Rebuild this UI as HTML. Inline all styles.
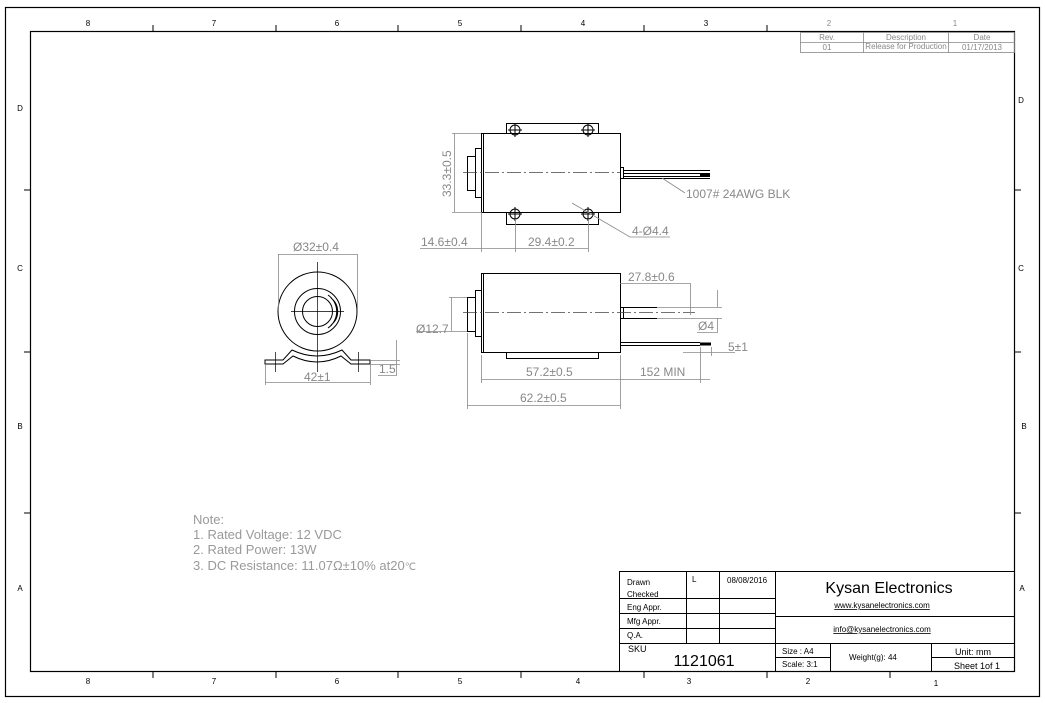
<!DOCTYPE html>
<html><head><meta charset="utf-8"><style>
html,body{margin:0;padding:0;background:#fff;width:1045px;height:703px;overflow:hidden}
svg{display:block}
text{font-family:"Liberation Sans",sans-serif}
.g{fill:#888}
.t{fill:#000}
</style></head><body>
<svg width="1045" height="703" viewBox="0 0 1045 703" xmlns="http://www.w3.org/2000/svg">
<g fill="none" stroke="#000" stroke-width="1.2">
<rect x="5.5" y="7.5" width="1034" height="689"/>
<rect x="30.5" y="31.5" width="984" height="640"/>
</g>
<g stroke="#000" stroke-width="1">
<line x1="153" y1="25" x2="153" y2="31"/><line x1="276" y1="25" x2="276" y2="31"/><line x1="398" y1="25" x2="398" y2="31"/><line x1="521" y1="25" x2="521" y2="31"/><line x1="644" y1="25" x2="644" y2="31"/><line x1="767" y1="25" x2="767" y2="31"/>
<line x1="153" y1="672" x2="153" y2="678"/><line x1="276" y1="672" x2="276" y2="678"/><line x1="398" y1="672" x2="398" y2="678"/><line x1="521" y1="672" x2="521" y2="678"/><line x1="644" y1="672" x2="644" y2="678"/><line x1="767" y1="672" x2="767" y2="678"/><line x1="890" y1="672" x2="890" y2="678"/>
<line x1="24" y1="190" x2="30" y2="190"/><line x1="24" y1="352" x2="30" y2="352"/><line x1="24" y1="513" x2="30" y2="513"/>
<line x1="1015" y1="190" x2="1021" y2="190"/><line x1="1015" y1="352" x2="1021" y2="352"/><line x1="1015" y1="513" x2="1021" y2="513"/>
</g>
<g font-size="8" class="t" text-anchor="middle">
<text x="88" y="26">8</text><text x="214" y="26">7</text><text x="337" y="26">6</text><text x="460" y="26">5</text><text x="583" y="26">4</text><text x="706" y="26">3</text><text x="829" y="26" class="g">2</text><text x="955" y="26" class="g">1</text>
<text x="88" y="684">8</text><text x="214" y="684">7</text><text x="337" y="684">6</text><text x="460" y="684">5</text><text x="578" y="684">4</text><text x="689" y="684">3</text><text x="808" y="684">2</text><text x="936" y="686">1</text>
<text x="20" y="111">D</text><text x="20" y="271">C</text><text x="20" y="429">B</text><text x="20" y="591">A</text>
<text x="1021" y="103">D</text><text x="1021" y="271">C</text><text x="1024" y="429">B</text><text x="1022" y="591">A</text>
</g>
<g stroke="#888" stroke-width="0.8" fill="none">
<rect x="800.5" y="32.5" width="214" height="20"/>
<line x1="800" y1="42.5" x2="1015" y2="42.5"/>
<line x1="863.5" y1="32" x2="863.5" y2="53"/><line x1="948.5" y1="32" x2="948.5" y2="53"/>
</g>
<g font-size="8" class="g" text-anchor="middle">
<text x="827" y="40">Rev.</text><text x="906" y="40">Description</text><text x="982" y="40">Date</text>
<text x="827" y="50">01</text><text x="906" y="49">Release for Production</text><text x="982" y="50">01/17/2013</text>
</g>
<g stroke="#000" stroke-width="1" fill="none">
<rect x="619.5" y="571.5" width="395" height="100"/>
<line x1="619" y1="598.5" x2="776" y2="598.5"/><line x1="619" y1="613.5" x2="776" y2="613.5"/><line x1="619" y1="628.5" x2="776" y2="628.5"/><line x1="619" y1="643.5" x2="1015" y2="643.5"/>
<line x1="686.5" y1="571" x2="686.5" y2="643"/><line x1="719.5" y1="571" x2="719.5" y2="643"/><line x1="775.5" y1="571" x2="775.5" y2="672"/>
<line x1="776" y1="616.5" x2="1015" y2="616.5"/>
<line x1="830.5" y1="643" x2="830.5" y2="672"/><line x1="931.5" y1="643" x2="931.5" y2="672"/>
<line x1="776" y1="657.5" x2="830" y2="657.5"/><line x1="931" y1="657.5" x2="1015" y2="657.5"/>
</g>
<g font-size="8" class="t">
<text x="627" y="585">Drawn</text><text x="627" y="597">Checked</text><text x="627" y="610">Eng Appr.</text><text x="627" y="624">Mfg Appr.</text><text x="627" y="638">Q.A.</text><text x="628" y="652" font-size="9">SKU</text>
<text x="692" y="582">L</text><text x="727" y="583">08/08/2016</text>
<text x="704" y="666" font-size="16" text-anchor="middle">1121061</text>
<text x="889" y="593" font-size="16" text-anchor="middle">Kysan Electronics</text>
<text x="882" y="608" text-anchor="middle" text-decoration="underline">www.kysanelectronics.com</text>
<text x="882" y="632" text-anchor="middle" text-decoration="underline">info@kysanelectronics.com</text>
<text x="782" y="654">Size : A4</text><text x="782" y="667">Scale: 3:1</text>
<text x="849" y="660">Weight(g):  44</text>
<text x="955" y="655" font-size="9">Unit: mm</text><text x="954" y="669" font-size="9">Sheet 1of 1</text>
</g>
<g stroke="#000" stroke-width="1" fill="none">
<rect x="481.5" y="133.5" width="139" height="79"/>
<line x1="483.5" y1="133" x2="483.5" y2="212"/>
<rect x="506.5" y="123.5" width="92" height="10"/>
<rect x="506.5" y="212.5" width="92" height="12"/>
<rect x="475.5" y="148.5" width="6" height="49"/>
<rect x="467.5" y="156.5" width="8" height="34"/>
<rect x="620.5" y="167.5" width="3" height="11"/>
<line x1="623" y1="170.5" x2="710" y2="170.5"/><line x1="623" y1="173.5" x2="710" y2="173.5"/><line x1="623" y1="176.5" x2="710" y2="176.5"/><line x1="623" y1="178.5" x2="710" y2="178.5"/>
<circle cx="515" cy="130" r="5"/><circle cx="588" cy="130" r="5"/><circle cx="515" cy="214" r="5"/><circle cx="588" cy="214" r="5"/>
<path d="M508 130h14M515 123v14M581 130h14M588 123v14M508 214h14M515 207v14M581 214h14M588 207v14"/>
</g>
<line x1="700" y1="174.5" x2="710" y2="174.5" stroke="#000" stroke-width="3"/>
<line x1="463" y1="172.5" x2="620" y2="172.5" stroke="#444" stroke-width="0.8" stroke-dasharray="14,3,2,3"/>
<g stroke="#888" stroke-width="0.8" fill="none">
<line x1="452" y1="133.5" x2="481" y2="133.5"/><line x1="452" y1="212.5" x2="481" y2="212.5"/><line x1="454.5" y1="133" x2="454.5" y2="212"/>
<line x1="481.5" y1="212" x2="481.5" y2="252"/><line x1="515.5" y1="219" x2="515.5" y2="252"/><line x1="588.5" y1="219" x2="588.5" y2="252"/>
<line x1="420" y1="248.5" x2="481" y2="248.5"/><line x1="481" y1="248.5" x2="588" y2="248.5"/>
<path d="M572 203L630 237H670"/><path d="M662 178L685 193"/>
</g>
<g font-size="12" class="g">
<text transform="translate(451,197) rotate(-90)">33.3±0.5</text>
<text x="421" y="246">14.6±0.4</text><text x="528" y="246">29.4±0.2</text>
<text x="632" y="235">4-Ø4.4</text><text x="686" y="198">1007# 24AWG BLK</text>
</g>
<g stroke="#000" stroke-width="1" fill="none">
<rect x="481.5" y="273.5" width="139" height="79"/>
<line x1="483.5" y1="273" x2="483.5" y2="352"/>
<rect x="506.5" y="352.5" width="92" height="6"/>
<rect x="475.5" y="290.5" width="6" height="46"/>
<rect x="467.5" y="297.5" width="8" height="34"/>
<rect x="620.5" y="307.5" width="3" height="11"/>
<line x1="623" y1="307.5" x2="657" y2="307.5"/><line x1="623" y1="318.5" x2="657" y2="318.5"/>
<line x1="620" y1="342.5" x2="700" y2="342.5"/><line x1="620" y1="345.5" x2="700" y2="345.5"/>
</g>
<line x1="700" y1="344" x2="711" y2="344" stroke="#000" stroke-width="3"/>
<line x1="463" y1="312.5" x2="695" y2="312.5" stroke="#444" stroke-width="0.8" stroke-dasharray="14,3,2,3"/>
<g stroke="#888" stroke-width="0.8" fill="none">
<line x1="620" y1="283.5" x2="690" y2="283.5"/><line x1="690.5" y1="283" x2="690.5" y2="315"/><line x1="620.5" y1="355" x2="620.5" y2="409"/>
<line x1="657" y1="307.5" x2="722" y2="307.5"/><line x1="657" y1="318.5" x2="722" y2="318.5"/>
<line x1="717.5" y1="290" x2="717.5" y2="307"/><line x1="717.5" y1="318" x2="717.5" y2="332"/><line x1="697" y1="332.5" x2="718" y2="332.5"/>
<line x1="451.5" y1="297" x2="451.5" y2="331"/><line x1="449" y1="297.5" x2="467" y2="297.5"/><line x1="416" y1="331.5" x2="467" y2="331.5"/>
<line x1="683" y1="352.5" x2="735" y2="352.5"/><line x1="700.5" y1="347" x2="700.5" y2="383"/><line x1="711.5" y1="347" x2="711.5" y2="356"/>
<line x1="481.5" y1="355" x2="481.5" y2="383"/><line x1="481" y1="379.5" x2="710" y2="379.5"/>
<line x1="467.5" y1="333" x2="467.5" y2="409"/><line x1="467" y1="405.5" x2="620" y2="405.5"/>
</g>
<g font-size="12" class="g">
<text x="628" y="281">27.8±0.6</text><text x="698" y="330">Ø4</text><text x="416" y="333">Ø12.7</text>
<text x="728" y="351">5±1</text><text x="526" y="376">57.2±0.5</text><text x="640" y="376">152 MIN</text><text x="520" y="402">62.2±0.5</text>
</g>
<g stroke="#000" stroke-width="1" fill="none">
<circle cx="317.5" cy="311.5" r="39.5"/>
<circle cx="317.5" cy="311.5" r="23"/>
<circle cx="317.5" cy="311.5" r="15"/>
<path d="M328 295a20 20 0 0 1 0 33M331 298a17 17 0 0 1 0 27"/>
<path d="M265 360H283L292 350Q317 362 342 350L351 360H370V364H351L341 356Q317 368 293 356L283 364H265Z"/>
</g>
<g stroke="#000" stroke-width="0.7">
<line x1="291" y1="311.5" x2="344" y2="311.5"/><line x1="317.5" y1="262" x2="317.5" y2="372"/>
<line x1="275.5" y1="352" x2="275.5" y2="372"/><line x1="358.5" y1="352" x2="358.5" y2="372"/>
</g>
<g stroke="#888" stroke-width="0.8" fill="none">
<line x1="278" y1="254.5" x2="357" y2="254.5"/><line x1="278.5" y1="254" x2="278.5" y2="311"/><line x1="357.5" y1="254" x2="357.5" y2="311"/>
<line x1="265.5" y1="364" x2="265.5" y2="385"/><line x1="370.5" y1="364" x2="370.5" y2="385"/><line x1="265" y1="382.5" x2="370" y2="382.5"/>
<line x1="370" y1="360.5" x2="400" y2="360.5"/><line x1="370" y1="364.5" x2="400" y2="364.5"/><line x1="396.5" y1="340" x2="396.5" y2="375"/><line x1="378" y1="375.5" x2="397" y2="375.5"/>
</g>
<g font-size="12" class="g">
<text x="293" y="251">Ø32±0.4</text><text x="304" y="381">42±1</text><text x="379" y="373">1.5</text>
</g>
<g font-size="13" fill="#9a9a9a">
<text x="193" y="524">Note:</text>
<text x="193" y="539">1. Rated Voltage: 12 VDC</text>
<text x="193" y="554">2. Rated Power: 13W</text>
<text x="193" y="570">3. DC Resistance: 11.07Ω±10% at20<tspan font-size="10">℃</tspan></text>
</g>
</svg>
</body></html>
